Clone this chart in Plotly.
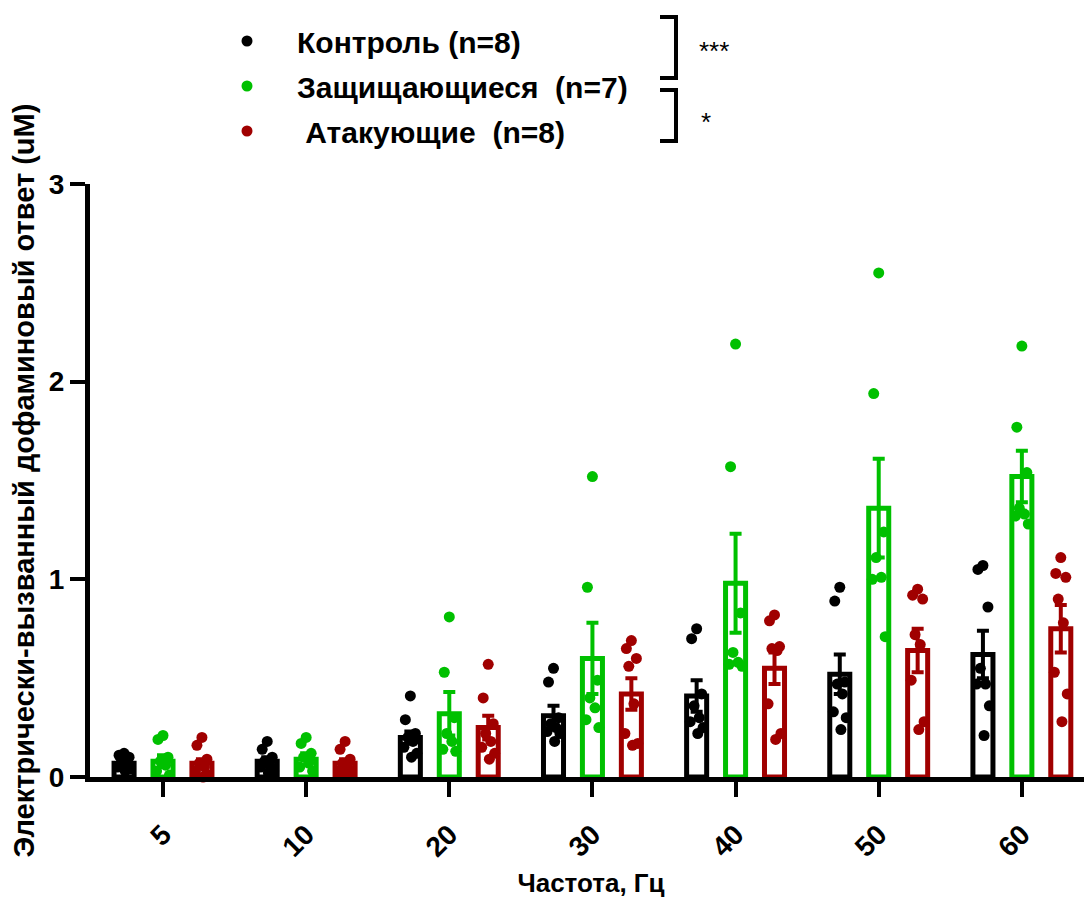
import plotly.graph_objects as go

# ---------------- data ----------------
freqs = ["5", "10", "20", "30", "40", "50", "60"]

ctrl_mean = [0.07, 0.08, 0.20, 0.31, 0.41, 0.52, 0.62]
ctrl_sem = [0.01, 0.02, 0.03, 0.05, 0.08, 0.10, 0.12]
ctrl_pts = [
    [0.12, 0.11, 0.10, 0.08, 0.06, 0.05, 0.04, 0.03],
    [0.18, 0.14, 0.10, 0.08, 0.06, 0.05, 0.03, 0.02],
    [0.41, 0.29, 0.22, 0.20, 0.18, 0.15, 0.12, 0.10],
    [0.55, 0.48, 0.30, 0.27, 0.25, 0.23, 0.22, 0.18],
    [0.75, 0.70, 0.42, 0.36, 0.30, 0.28, 0.25, 0.22],
    [0.96, 0.89, 0.48, 0.47, 0.42, 0.33, 0.30, 0.24],
    [1.07, 1.05, 0.86, 0.55, 0.47, 0.47, 0.36, 0.21],
]

def_mean = [0.08, 0.09, 0.32, 0.60, 0.98, 1.36, 1.52]
def_sem = [0.03, 0.03, 0.11, 0.18, 0.25, 0.25, 0.13]
def_pts = [
    [0.21, 0.19, 0.10, 0.08, 0.06, 0.03, 0.01],
    [0.20, 0.17, 0.12, 0.10, 0.07, 0.05, 0.03],
    [0.81, 0.53, 0.30, 0.22, 0.18, 0.14, 0.13],
    [1.52, 0.96, 0.49, 0.40, 0.35, 0.29, 0.25],
    [2.19, 1.57, 0.83, 0.63, 0.58, 0.57, 0.56],
    [2.55, 1.94, 1.24, 1.11, 1.01, 1.00, 0.71],
    [2.18, 1.77, 1.54, 1.36, 1.33, 1.32, 1.28],
]

att_mean = [0.07, 0.07, 0.25, 0.42, 0.55, 0.64, 0.75]
att_sem = [0.02, 0.02, 0.06, 0.08, 0.08, 0.11, 0.12]
att_pts = [
    [0.20, 0.16, 0.09, 0.07, 0.05, 0.03, 0.01, 0.00],
    [0.18, 0.14, 0.09, 0.07, 0.05, 0.03, 0.02, 0.01],
    [0.57, 0.40, 0.27, 0.22, 0.18, 0.15, 0.12, 0.09],
    [0.69, 0.65, 0.60, 0.56, 0.37, 0.22, 0.17, 0.16],
    [0.82, 0.79, 0.66, 0.65, 0.64, 0.37, 0.22, 0.19],
    [0.95, 0.92, 0.90, 0.72, 0.67, 0.49, 0.28, 0.24],
    [1.11, 1.03, 1.01, 0.90, 0.78, 0.53, 0.42, 0.28],
]

group_names = ["Контроль (n=8)", "Защищающиеся  (n=7)", " Атакующие  (n=8)"]
y_ticks = [0, 1, 2, 3]

# ---------------- styling ----------------
colors = ["#000000", "#00c000", "#a00000"]
offsets = [-0.272, 0.0, 0.272]
jitter = [0.0, -0.035, 0.035, -0.018, 0.018, -0.045, 0.045, 0.008]
FONT = "Liberation Sans"

groups = [
    (ctrl_mean, ctrl_sem, ctrl_pts),
    (def_mean, def_sem, def_pts),
    (att_mean, att_sem, att_pts),
]

fig = go.Figure()

for g, (means, sems, pts) in enumerate(groups):
    xb = [i + offsets[g] for i in range(len(freqs))]
    fig.add_trace(go.Bar(
        x=xb, y=means, width=0.14,
        marker=dict(color="white", line=dict(color=colors[g], width=5)),
        error_y=dict(type="data", array=sems, visible=True,
                     color=colors[g], thickness=4, width=6),
        showlegend=False, hoverinfo="skip",
    ))

for g, (means, sems, pts) in enumerate(groups):
    xs, ys = [], []
    for i, vals in enumerate(pts):
        for j, v in enumerate(vals):
            xs.append(i + offsets[g] + jitter[j % len(jitter)])
            ys.append(v)
    fig.add_trace(go.Scatter(
        x=xs, y=ys, mode="markers",
        marker=dict(color=colors[g], size=11, line=dict(width=0)),
        name=group_names[g], legendgroup=f"g{g}",
        cliponaxis=False,
    ))

# page has an 8px body margin; figure is placed at (8, 8)
OFF = 8
FW, FH = 1092 - OFF, 898 - OFF
L, T, W, H = 90, 184, 1002, 593   # plot area in page pixels
def px(x):
    return (x - L) / W
def py(y):
    return (T + H - y) / H

shapes = []
for (y1, y2) in [(17, 78), (90, 141)]:
    path = f"M {px(660)} {py(y1)} L {px(676)} {py(y1)} L {px(676)} {py(y2)} L {px(660)} {py(y2)}"
    shapes.append(dict(type="path", xref="paper", yref="paper", path=path,
                       line=dict(color="black", width=4)))

annotations = [
    dict(text="***", x=px(714), y=py(34), xref="paper", yref="paper",
         showarrow=False, font=dict(family=FONT, size=26, color="black")),
    dict(text="*", x=px(706), y=py(105), xref="paper", yref="paper",
         showarrow=False, font=dict(family=FONT, size=26, color="black")),
]

fig.update_layout(
    width=FW, height=FH,
    margin=dict(l=L - OFF, r=FW - (L - OFF) - W, t=T - OFF, b=FH - (T - OFF) - H,
                autoexpand=False),
    plot_bgcolor="white", paper_bgcolor="white",
    font=dict(family=FONT, color="black"),
    barmode="overlay",
    shapes=shapes, annotations=annotations,
    showlegend=True,
    legend=dict(
        x=px(197), y=py(15), xanchor="left", yanchor="top",
        font=dict(family=FONT, size=30, color="black", weight="bold"),
        tracegroupgap=3, itemwidth=90, bgcolor="rgba(0,0,0,0)",
    ),
    xaxis=dict(
        range=[-0.51, 6.49],
        tickvals=list(range(len(freqs))), ticktext=freqs,
        tickangle=-45,
        tickfont=dict(family=FONT, size=28, weight="bold"),
        ticks="outside", ticklen=15, tickwidth=4, tickcolor="black",
        ticklabelstandoff=10,
        showline=True, linecolor="black", linewidth=5,
        showgrid=False, zeroline=False,
        title=dict(text="Частота, Гц", font=dict(family=FONT, size=26, weight="bold"), standoff=17),
    ),
    yaxis=dict(
        range=[0, 3],
        tickvals=y_ticks,
        tickfont=dict(family=FONT, size=28, weight="bold"),
        ticks="outside", ticklen=15, tickwidth=4, tickcolor="black",
        showline=True, linecolor="black", linewidth=5,
        showgrid=False, zeroline=False,
        title=dict(text="Электрически-вызванный дофаминовый ответ (uM)",
                   font=dict(family=FONT, size=29, weight="bold"), standoff=19),
    ),
)

fig.write_html("out.html")
